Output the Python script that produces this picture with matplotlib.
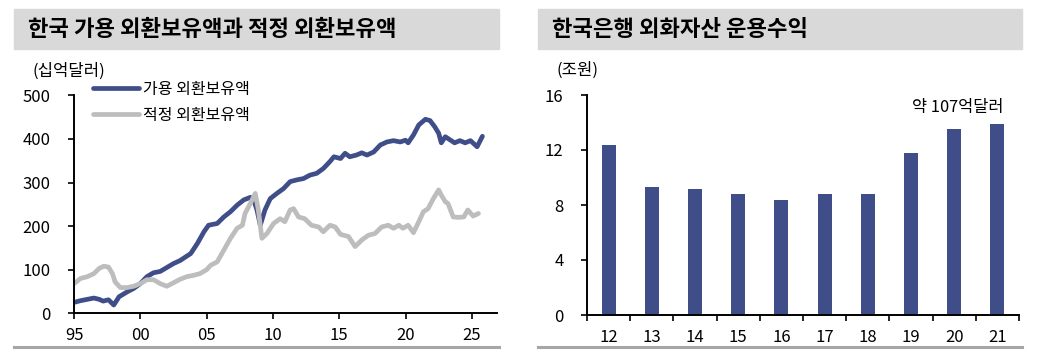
import numpy as np
import matplotlib
matplotlib.use("Agg")
from matplotlib import pyplot as plt
from matplotlib.patches import Rectangle
from matplotlib.lines import Line2D

plt.rcParams['font.family'] = ['Noto Sans CJK KR', 'DejaVu Sans']

# 가용 외환보유액 (십억달러)
usable_t = [1995.0, 1995.5, 1996.0, 1996.5, 1996.9, 1997.2, 1997.6, 1997.9, 1998.0, 1998.4,
            1999.0, 1999.5, 2000.0, 2000.5, 2001.0, 2001.5, 2002.0, 2002.5, 2003.0, 2003.5,
            2003.8, 2004.3, 2004.8, 2005.15, 2005.8, 2006.3, 2006.8, 2007.3, 2007.8, 2008.3,
            2008.55, 2008.8, 2009.05, 2009.4, 2009.8, 2010.3, 2010.8, 2011.3, 2011.8, 2012.3,
            2012.8, 2013.3, 2013.8, 2014.3, 2014.6, 2015.1, 2015.44, 2015.8, 2016.3, 2016.7,
            2017.1, 2017.6, 2018.1, 2018.6, 2019.1, 2019.6, 2020.0, 2020.2, 2020.6, 2021.0,
            2021.5, 2021.85, 2022.2, 2022.5, 2022.7, 2023.0, 2023.4, 2023.7, 2024.1, 2024.5,
            2024.9, 2025.4, 2025.8]
usable_v = [25, 29, 32, 35, 32, 28, 31, 22, 19, 38,
            49, 57, 68, 84, 93, 96, 105, 114, 121, 131,
            137, 160, 187, 202, 206, 221, 233, 248, 260, 266,
            260, 237, 202, 237, 263, 275, 286, 302, 306, 309,
            317, 321, 332, 348, 359, 355, 367, 359, 363, 368,
            363, 370, 386, 393, 396, 393, 397, 391, 409, 432,
            445, 442, 428, 413, 391, 405, 397, 391, 396, 391,
            396, 382, 406]

# 적정 외환보유액 (십억달러)
adequate_t = [1995.0, 1995.5, 1996.0, 1996.5, 1996.9, 1997.25, 1997.6, 1997.9, 1998.1, 1998.5,
              1999.0, 1999.5, 2000.0, 2000.5, 2001.0, 2001.5, 2002.0, 2002.5, 2003.0, 2003.5,
              2004.0, 2004.5, 2005.0, 2005.3, 2005.8, 2006.3, 2006.8, 2007.3, 2007.7, 2007.9,
              2008.3, 2008.67, 2008.9, 2009.17, 2009.55, 2010.05, 2010.55, 2010.9, 2011.3, 2011.56,
              2011.93, 2012.4, 2012.9, 2013.45, 2013.8, 2014.3, 2014.7, 2015.1, 2015.7, 2016.2,
              2016.7, 2017.2, 2017.7, 2018.2, 2018.7, 2019.1, 2019.5, 2019.8, 2020.2, 2020.6,
              2021.0, 2021.35, 2021.7, 2022.1, 2022.5, 2022.7, 2023.0, 2023.2, 2023.6, 2024.0,
              2024.4, 2024.7, 2025.1, 2025.5]
adequate_v = [68, 80, 84, 91, 103, 108, 106, 91, 72, 59,
              59, 62, 68, 77, 77, 68, 62, 70, 78, 84,
              87, 91, 100, 110, 118, 145, 172, 195, 202, 229,
              252, 275, 237, 172, 183, 206, 217, 210, 237, 240,
              221, 217, 202, 198, 187, 202, 198, 181, 176, 153,
              168, 179, 183, 198, 202, 195, 202, 195, 202, 185,
              210, 233, 240, 263, 283, 271, 256, 252, 221, 220,
              221, 237, 223, 229]

left_xticks = [1995, 2000, 2005, 2010, 2015, 2020, 2025]
left_xlabels = ['95', '00', '05', '10', '15', '20', '25']

# 한국은행 외화자산 운용수익 (조원)
bar_years = ['12', '13', '14', '15', '16', '17', '18', '19', '20', '21']
bar_values = [12.4, 9.3, 9.2, 8.8, 8.4, 8.8, 8.8, 11.8, 13.5, 13.9]

W, H = 1039, 353
navy = '#3F4E89'
gray = '#BDBDBD'

fig = plt.figure(figsize=(W / 100, H / 100), dpi=100)


def fx(px):
    return px / W


def fy(py):
    return 1 - py / H


# title bands and bottom rules
for x0, x1, title, tx in [(14, 499, '한국 가용 외환보유액과 적정 외환보유액', 28),
                          (538, 1022, '한국은행 외화자산 운용수익', 552)]:
    fig.patches.append(Rectangle((fx(x0), fy(49)), fx(x1 - x0), (49 - 9) / H,
                                 transform=fig.transFigure, color='#D9D9D9', zorder=0))
    fig.text(fx(tx), fy(29), title, fontsize=16, fontweight='bold', va='center', ha='left')
    fig.lines.append(Line2D([fx(x0), fx(x1)], [fy(347), fy(347)], transform=fig.transFigure,
                            color='#A6A6A6', lw=2.2))

fig.text(fx(32), fy(71), '(십억달러)', fontsize=12, va='center', ha='left')
fig.text(fx(556), fy(70), '(조원)', fontsize=12, va='center', ha='left')

# left: line chart
ax1 = fig.add_axes([fx(74), fy(313.3), fx(423), 218 / H])
ax1.plot(usable_t, usable_v, color=navy, lw=3.4, label='가용 외환보유액', solid_capstyle='round')
ax1.plot(adequate_t, adequate_v, color=gray, lw=3.4, label='적정 외환보유액', solid_capstyle='round')
ax1.set_xlim(1995, 2026.9)
ax1.set_ylim(0, 500)
ax1.set_yticks([0, 100, 200, 300, 400, 500])
ax1.set_xticks(left_xticks)
ax1.set_xticklabels(left_xlabels)
leg = ax1.legend(loc='upper left', bbox_to_anchor=(0.045, 1.066), frameon=False,
                 fontsize=11.5, handlelength=2.9, handletextpad=0.2, labelspacing=0.54,
                 borderpad=0, borderaxespad=0)

# right: bar chart
ax2 = fig.add_axes([fx(587), fy(315), fx(432), 220 / H])
x = np.arange(len(bar_years))
ax2.bar(x, bar_values, width=0.32, color=navy)
ax2.set_xlim(-0.5, len(bar_years) - 0.5)
ax2.set_ylim(0, 16)
ax2.set_yticks([0, 4, 8, 12, 16])
ax2.set_xticks(np.arange(-0.5, len(bar_years)), labels=[''] * (len(bar_years) + 1))
ax2.set_xticks(x, labels=bar_years, minor=True)
ax2.tick_params(axis='x', which='minor', length=0, pad=10)
ax2.text(0.859, 0.945, '약 107억달러', transform=ax2.transAxes, fontsize=11.8,
         ha='center', va='center')

for ax in (ax1, ax2):
    for s in ('top', 'right'):
        ax.spines[s].set_visible(False)
    for s in ('left', 'bottom'):
        ax.spines[s].set_linewidth(1.4)
    ax.tick_params(axis='y', which='major', direction='out', length=4, width=1.2,
                   labelsize=12, pad=13)
    ax.tick_params(axis='x', which='major', direction='out', length=4, width=1.2,
                   labelsize=12, pad=6)
    ax.tick_params(axis='x', which='minor', labelsize=12)

fig.savefig('out.png', dpi=100)
